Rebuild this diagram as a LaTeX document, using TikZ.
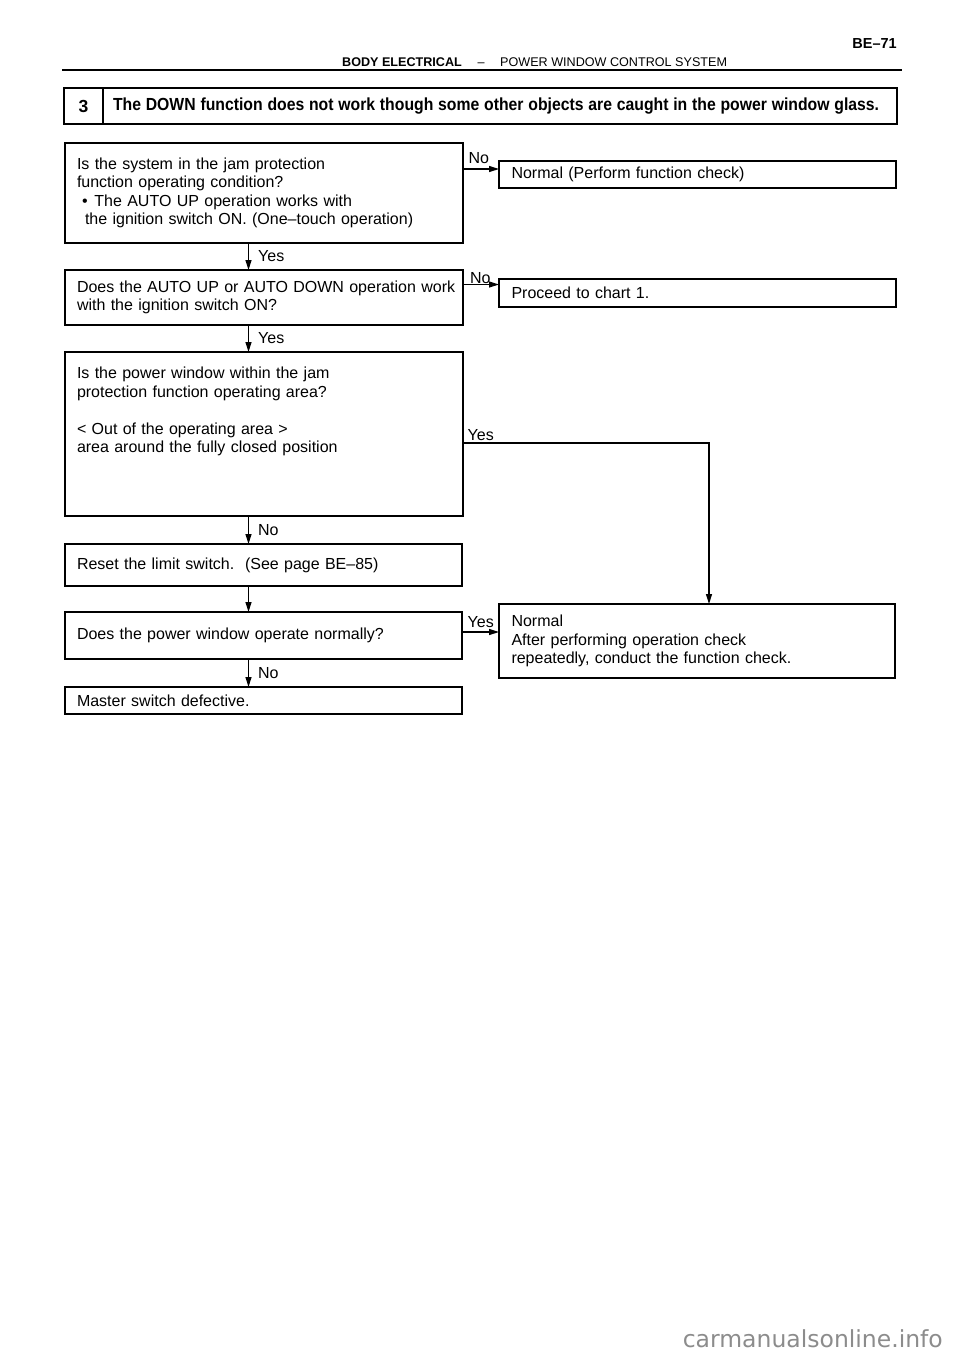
\documentclass[tikz,border=0pt]{standalone}
\usepackage{graphicx}
\usepackage{fontspec}
\setmainfont{Liberation Sans}
\newfontfamily\wmfont{DejaVu Sans}
\usetikzlibrary{arrows.meta,calc}
\definecolor{wmgray}{HTML}{8C8C8C}
\begin{document}
\begin{tikzpicture}[x=1pt,y=-1pt,
  txtfont/.style={font=\fontsize{16pt}{18.5pt}\selectfont},
  box/.style={draw, line width=1.4pt, rectangle, anchor=north west, outer sep=0pt,
    inner xsep=12pt, inner ysep=0pt, align=left, txtfont},
  lbl/.style={inner sep=0pt, txtfont},
  arr/.style={line width=1.3pt, -{Triangle[length=10pt,width=6pt]}},
  hdr/.style={inner sep=0pt, font=\fontsize{12.6pt}{14pt}\selectfont}
  ]
\useasboundingbox (0,0) rectangle (960,1358);

% header
\node[hdr, anchor=base east, font=\fontsize{14.5pt}{16pt}\selectfont\bfseries] (pg) at (897,48.2) {BE–71};
\node[hdr, anchor=base west, font=\fontsize{12.6pt}{14pt}\selectfont\bfseries] (hd1) at (342,66.5) {BODY ELECTRICAL};
\node[hdr, anchor=base] (hd2) at (481,66.5) {–};
\node[hdr, anchor=base west] (hd3) at (500,66.5) {POWER WINDOW CONTROL SYSTEM};
\coordinate (rl) at (62,70);
\coordinate (rr) at (902,70);
\draw[line width=2.2pt] (rl) -- (rr);

% title
\node[box, minimum width=39pt, minimum height=36pt, inner xsep=0pt, align=center,
  font=\fontsize{17.5pt}{20pt}\selectfont\bfseries] (tn) at (64,88) {3};
\node[box, text width=774pt, inner xsep=10pt, minimum height=36pt] (tt) at (tn.north east)
  {\fontsize{17.5pt}{20pt}\selectfont\bfseries\resizebox{766pt}{\height}{The DOWN function does not work though some other objects are caught in the power window glass.}};

% boxes
\node[box, text width=374pt, minimum height=100pt] (b1) at (65,143)
  {Is the system in the jam protection\\function operating condition?\\\hspace*{5pt}•\hspace{1.5pt} The AUTO UP operation works with\\\hspace*{8pt}the ignition switch ON. (One–touch operation)};
\node[box, text width=372pt, minimum height=27pt, inner xsep=12.5pt] (n1) at (499,161) {Normal (Perform function check)};
\node[box, text width=374pt, minimum height=55pt] (b2) at (65,270)
  {\mbox{Does the AUTO UP or AUTO DOWN operation work}\\with the ignition switch ON?};
\node[box, text width=372pt, minimum height=28pt, inner xsep=12.5pt] (n2) at (499,279) {Proceed to chart 1.};
\node[box, text width=374pt, minimum height=164pt] (b3) at (65,352)
  {Is the power window within the jam\\protection function operating area?\\[18.5pt]< Out of the operating area >\\area around the fully closed position\\[29.7pt]\mbox{}};
\node[box, text width=373pt, minimum height=42pt] (b4) at (65,544) {Reset the limit switch.\ \ (See page BE–85)};
\node[box, text width=373pt, minimum height=47pt] (b5) at (65,612) {Does the power window operate normally?};
\node[box, text width=371pt, minimum height=74pt, inner xsep=12.5pt] (n3) at (499,604)
  {Normal\\After performing operation check\\repeatedly, conduct the function check.};
\node[box, text width=373pt, minimum height=27pt] (b6) at (65,687) {Master switch defective.};

% connector helpers
\coordinate (ax) at (248.5,0);
\coordinate (rx) at (709,0);
\coordinate (y1) at (0,169);
\coordinate (y2) at (0,284.5);
\coordinate (y3) at (0,443);
\coordinate (y5) at (0,632);

% vertical flow
\draw[arr] (b1.south -| ax) -- node[lbl, anchor=west, xshift=9pt] (l1) {Yes} (b2.north -| ax);
\draw[arr] (b2.south -| ax) -- node[lbl, anchor=west, xshift=9pt] (l2) {Yes} (b3.north -| ax);
\draw[arr] (b3.south -| ax) -- node[lbl, anchor=west, xshift=9pt] (l3) {No} (b4.north -| ax);
\draw[arr] (b4.south -| ax) -- (b5.north -| ax);
\draw[arr] (b5.south -| ax) -- node[lbl, anchor=west, xshift=9pt] (l5) {No} (b6.north -| ax);

% side branches
\draw[arr] (b1.east |- y1) -- node[lbl, pos=0, anchor=base west, xshift=5pt, yshift=6pt] (m1) {No} (n1.west |- y1);
\draw[arr] (b2.east |- y2) -- node[lbl, pos=0, anchor=base west, xshift=6.5pt, yshift=1.5pt] (m2) {No} (n2.west |- y2);
\draw[arr] (b3.east |- y3) -- node[lbl, pos=0, anchor=base west, xshift=4pt, yshift=3pt] (m3) {Yes} (rx |- y3) -- (n3.north -| rx);
\draw[arr] (b5.east |- y5) -- node[lbl, pos=0, anchor=base west, xshift=5pt, yshift=5pt] (m5) {Yes} (n3.west |- y5);

% watermark
\node[anchor=base east, inner sep=0pt, text=wmgray, font=\wmfont\fontsize{23.5pt}{26pt}\selectfont] (wm) at (943,1347) {carmanualsonline.info};
\end{tikzpicture}
\end{document}
